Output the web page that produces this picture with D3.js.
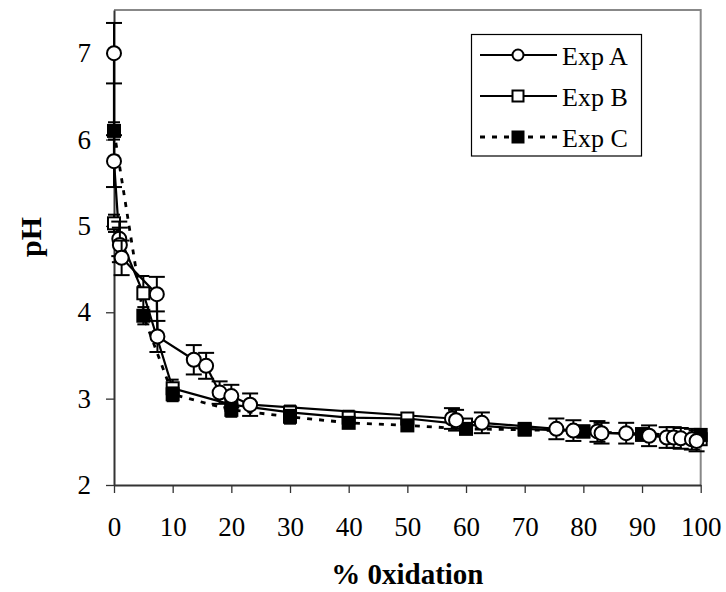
<!DOCTYPE html>
<html lang="en">
<head>
<meta charset="UTF-8">
<title>pH vs % oxidation</title>
<style>
body { margin: 0; background: #fff; }
svg text { font-family: "Liberation Serif", "Times New Roman", serif; }
</style>
</head>
<body>
<svg width="726" height="592"></svg>
<script src="https://d3js.org/d3.v7.min.js"></script>
<script>
// Exp A (open circles)
var xA = [0, 0, 0.9, 1.0, 1.3, 7.3, 7.4, 13.6, 15.7, 18.0, 20.0, 23.2, 57.6, 58.3, 62.7, 75.4, 78.3, 82.4, 83.1, 87.3, 91.2, 94.2, 95.4, 96.6, 98.5, 99.3];
var yA = [7.0, 5.75, 4.85, 4.78, 4.63, 4.21, 3.72, 3.45, 3.38, 3.07, 3.03, 2.93, 2.77, 2.75, 2.72, 2.65, 2.63, 2.62, 2.60, 2.60, 2.57, 2.55, 2.55, 2.54, 2.53, 2.51];
var eA = [0.35, 0.3, 0.2, 0.2, 0.2, 0.2, 0.18, 0.17, 0.15, 0.13, 0.13, 0.13, 0.12, 0.12, 0.12, 0.12, 0.12, 0.12, 0.12, 0.12, 0.12, 0.12, 0.12, 0.12, 0.12, 0.12];
// Exp B (open squares)
var xB = [0, 5, 10, 20, 30, 40, 50, 60, 70, 80, 90, 100];
var yB = [5.03, 4.22, 3.12, 2.93, 2.84, 2.78, 2.77, 2.70, 2.65, 2.62, 2.58, 2.53];
var eB = [0.1, 0.2, 0.1, 0.08, 0.08, 0.08, 0.06, 0.06, 0.06, 0.06, 0.06, 0.06];
// Exp C (filled squares)
var xC = [0, 5, 10, 20, 30, 40, 50, 60, 70, 80, 90, 100];
var yC = [6.1, 3.96, 3.05, 2.87, 2.79, 2.72, 2.69, 2.65, 2.64, 2.62, 2.59, 2.58];
var eC = [0.1, 0.1, 0.08, 0.08, 0.08, 0.06, 0.06, 0.06, 0.06, 0.06, 0.06, 0.06];

var xTicks = [0, 10, 20, 30, 40, 50, 60, 70, 80, 90, 100];
var yTicks = [2, 3, 4, 5, 6, 7];
var seriesNames = ["Exp A", "Exp B", "Exp C"];

var svg = d3.select("svg"),
    plotL = 114, plotT = 10, plotR = 700.7, plotB = 485;

var x = d3.scaleLinear().domain([0, 100]).range([plotL, plotR]);
var y = d3.scaleLinear().domain([2, 7.5]).range([plotB, plotT]);

function zip(xs, ys, es) {
    return xs.map(function(d, i) { return {x: d, y: ys[i], e: es[i]}; });
}
var series = [
    {name: seriesNames[1], data: zip(xB, yB, eB), shape: "square", fill: "#fff", dash: null},
    {name: seriesNames[2], data: zip(xC, yC, eC), shape: "square", fill: "#000", dash: "5,7"},
    {name: seriesNames[0], data: zip(xA, yA, eA), shape: "circle", fill: "#fff", dash: null}
];

// plot border (top/right grey)
svg.append("path")
    .attr("d", "M" + plotL + "," + plotT + "H" + plotR + "V" + plotB)
    .attr("fill", "none")
    .attr("stroke", "#888")
    .attr("stroke-width", 2);

// axes
var xAxis = svg.append("g")
    .attr("transform", "translate(0," + plotB + ")")
    .call(d3.axisBottom(x).tickValues(xTicks).tickFormat(d3.format("d"))
        .tickSize(8).tickPadding(24).tickSizeOuter(0));
var yAxis = svg.append("g")
    .attr("transform", "translate(" + plotL + ",0)")
    .call(d3.axisLeft(y).tickValues(yTicks).tickFormat(d3.format("d"))
        .tickSize(8).tickPadding(15).tickSizeOuter(0));
[xAxis, yAxis].forEach(function(a) {
    a.attr("font-family", null).attr("font-size", 27);
    a.select(".domain").attr("stroke", "#333").attr("stroke-width", 2);
    a.selectAll(".tick line").attr("stroke", "#333").attr("stroke-width", 1.3);
    a.selectAll(".tick text").attr("fill", "#000");
});

svg.append("text")
    .attr("x", (plotL + plotR) / 2).attr("y", 584)
    .attr("text-anchor", "middle")
    .attr("font-size", 29).attr("font-weight", "bold")
    .text("% 0xidation");
svg.append("text")
    .attr("transform", "translate(41,237) rotate(-90)")
    .attr("text-anchor", "middle")
    .attr("font-size", 30).attr("font-weight", "bold")
    .text("pH");

var line = d3.line().x(function(d) { return x(d.x); }).y(function(d) { return y(d.y); });

// lines
series.forEach(function(s) {
    svg.append("path").datum(s.data)
        .attr("d", line)
        .attr("fill", "none")
        .attr("stroke", "#000")
        .attr("stroke-width", s.dash ? 2.8 : 2.2)
        .attr("stroke-dasharray", s.dash);
});

function drawMarker(g, shape, fill, size) {
    if (shape === "circle") {
        g.append("circle").attr("r", size / 2)
            .attr("fill", fill).attr("stroke", "#000").attr("stroke-width", 2);
    } else {
        g.append("rect").attr("x", -size / 2).attr("y", -size / 2)
            .attr("width", size).attr("height", size)
            .attr("fill", fill).attr("stroke", "#000").attr("stroke-width", 2);
    }
}

// error bars and markers
series.forEach(function(s) {
    var cap = s.shape === "circle" ? 8 : 6;
    var g = svg.append("g");
    var pts = g.selectAll("g").data(s.data).enter().append("g");
    pts.append("line")
        .attr("x1", function(d) { return x(d.x); }).attr("x2", function(d) { return x(d.x); })
        .attr("y1", function(d) { return y(d.y + d.e); }).attr("y2", function(d) { return y(d.y - d.e); })
        .attr("stroke", "#000").attr("stroke-width", 2);
    [1, -1].forEach(function(sign) {
        pts.append("line")
            .attr("x1", function(d) { return x(d.x) - cap; }).attr("x2", function(d) { return x(d.x) + cap; })
            .attr("y1", function(d) { return y(d.y + sign * d.e); }).attr("y2", function(d) { return y(d.y + sign * d.e); })
            .attr("stroke", "#000").attr("stroke-width", 2);
    });
    pts.each(function(d) {
        var m = d3.select(this).append("g").attr("transform", "translate(" + x(d.x) + "," + y(d.y) + ")");
        drawMarker(m, s.shape, s.fill, s.shape === "circle" ? 14 : 12);
    });
});

// legend
var legend = svg.append("g");
legend.append("rect")
    .attr("x", 471.5).attr("y", 34.5).attr("width", 170).attr("height", 121.5)
    .attr("fill", "#fff").attr("stroke", "#000").attr("stroke-width", 1.2);
var legendItems = [
    {name: seriesNames[0], shape: "circle", fill: "#fff", dash: null},
    {name: seriesNames[1], shape: "square", fill: "#fff", dash: null},
    {name: seriesNames[2], shape: "square", fill: "#000", dash: "5,7"}
];
legendItems.forEach(function(s, i) {
    var ly = 55 + i * 41;
    legend.append("line")
        .attr("x1", 480).attr("x2", 557).attr("y1", ly).attr("y2", ly)
        .attr("stroke", "#000").attr("stroke-width", s.dash ? 2.8 : 2)
        .attr("stroke-dasharray", s.dash);
    var m = legend.append("g").attr("transform", "translate(518," + ly + ")");
    drawMarker(m, s.shape, s.fill, 11);
    legend.append("text").attr("x", 562).attr("y", ly + 10)
        .attr("font-size", 26)
        .text(s.name);
});
</script>
</body>
</html>
